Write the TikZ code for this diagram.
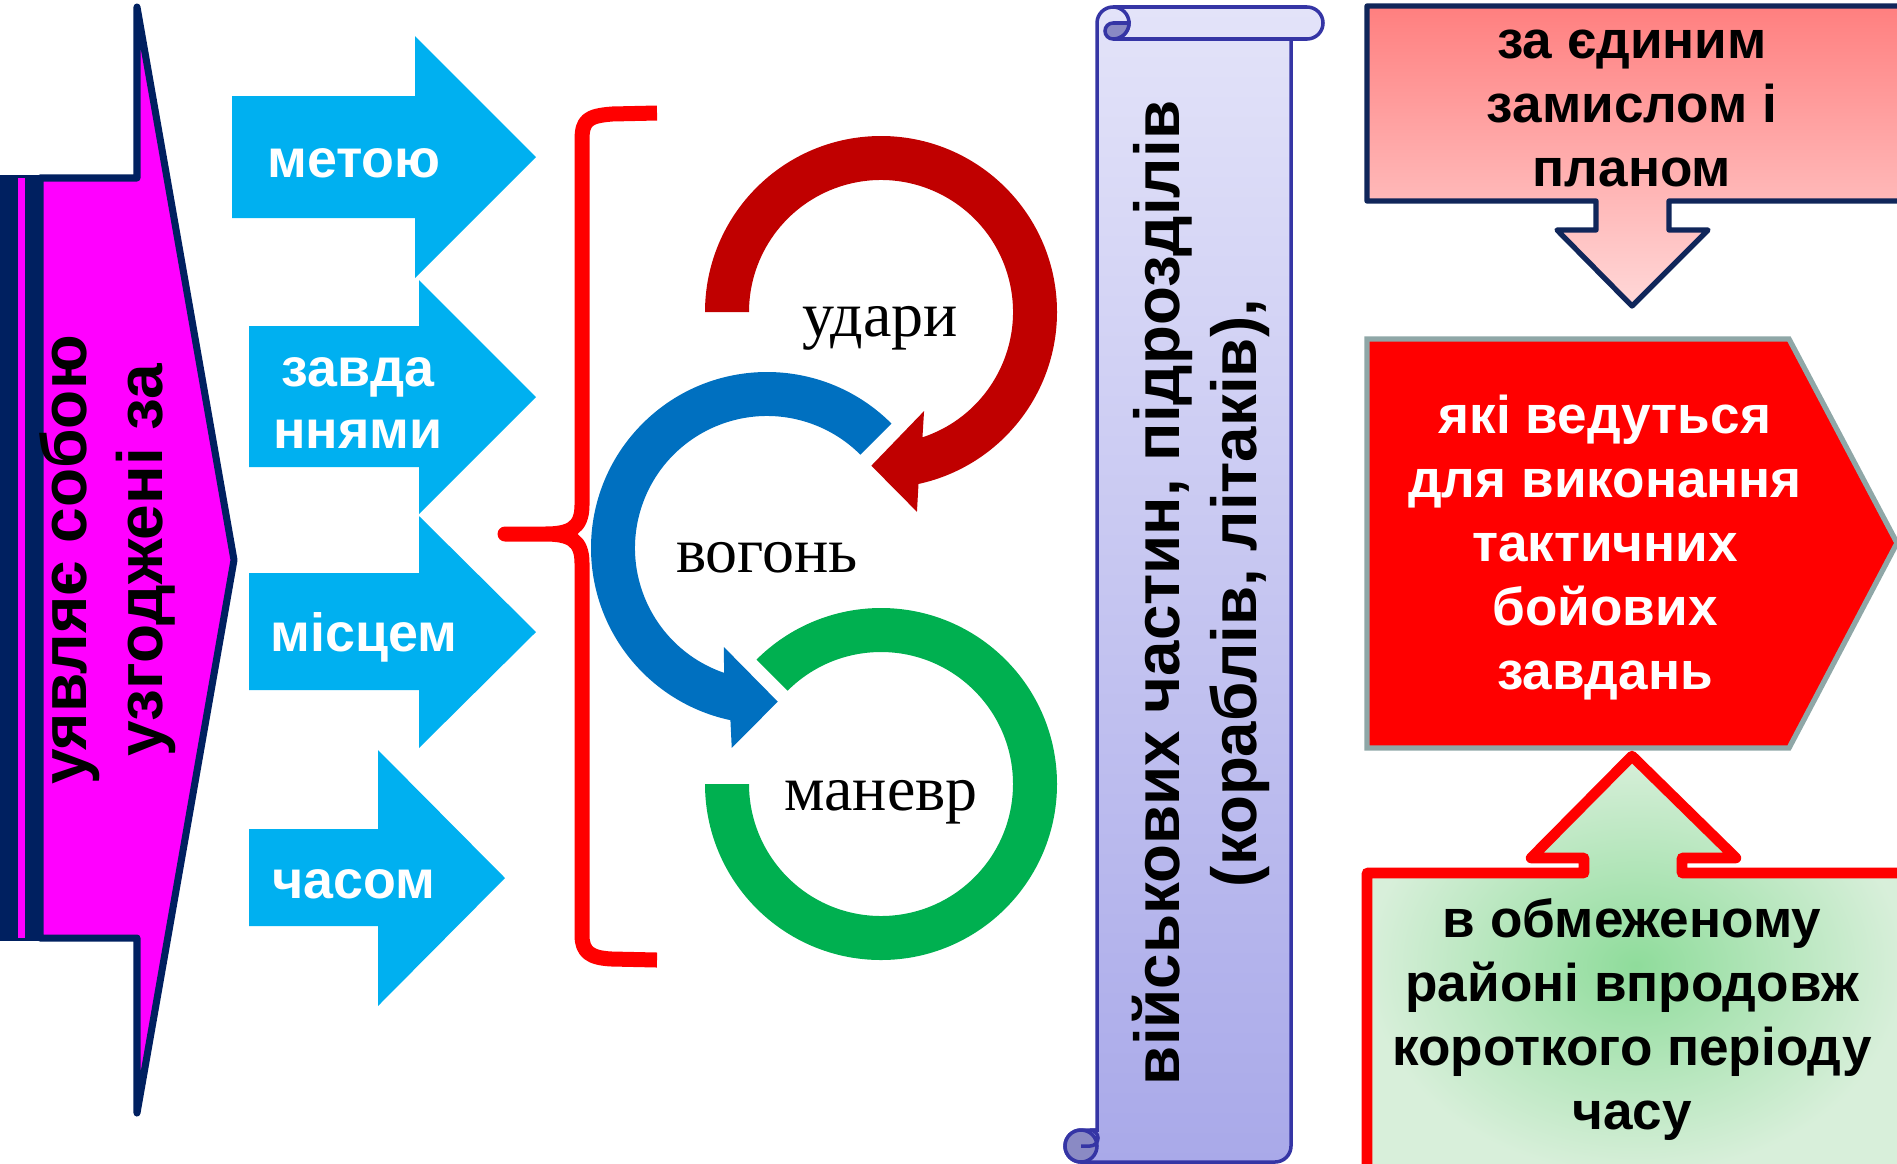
\documentclass[tikz,border=0pt]{standalone}
\usepackage{fontspec}
\setmainfont{Liberation Serif}
\setsansfont{Liberation Sans}
\definecolor{navy}{HTML}{002060}
\definecolor{pinkarrow}{HTML}{FF00FF}
\definecolor{skyblue}{HTML}{00B0F0}
\definecolor{bracered}{HTML}{FF0000}
\definecolor{ringred}{HTML}{C00000}
\definecolor{ringblue}{HTML}{0070C0}
\definecolor{ringgreen}{HTML}{00B050}
\definecolor{scrollline}{HTML}{3535A5}
\definecolor{scrolltop}{HTML}{E3E3F9}
\definecolor{scrollbot}{HTML}{A9A9E9}
\definecolor{scrollcurl}{HTML}{8A8AC4}
\definecolor{planline}{HTML}{10265A}
\definecolor{plantop}{HTML}{FF7F7F}
\definecolor{planbot}{HTML}{FFD8D8}
\definecolor{taskline}{HTML}{8FA7A7}
\definecolor{areain}{HTML}{8FDC9B}
\definecolor{areaout}{HTML}{D8EFDA}

\begin{document}
\begin{tikzpicture}[x=0.01cm, y=0.01cm,
  sidetext/.style={font=\fontsize{18.2}{21.6}\selectfont\sffamily\bfseries, align=center, rotate=90},
  bluetext/.style={font=\fontsize{15.3}{17.9}\selectfont\sffamily\bfseries, text=white, align=center},
  ringtext/.style={font=\fontsize{18.2}{21}\selectfont, anchor=base},
  scrolltext/.style={font=\fontsize{18.1}{21.9}\selectfont\sffamily\bfseries, align=center, rotate=90},
  boxtext/.style={font=\fontsize{15.1}{18.2}\selectfont\sffamily\bfseries, align=center}]
\clip (0,0) rectangle (1897,-1163);

\fill[navy] (0,-175) rectangle (41,-941);
\fill[pinkarrow] (18,-178) rectangle (25,-938);
\draw[navy, fill=pinkarrow, line width=2pt, line join=round] (40,-178) -- (137,-178) -- (137,-7) -- (234,-560) -- (137,-1113) -- (137,-938) -- (40,-938) -- cycle;
\node[sidetext] (joint) at (108,-560) {уявляє собою\\узгоджені за};

\fill[skyblue] (232,-96) -- (415,-96) -- (415,-36) -- (536,-157) -- (415,-278) -- (415,-218) -- (232,-218) -- cycle;
\fill[skyblue] (249,-326) -- (419,-326) -- (419,-280) -- (536,-397) -- (419,-514) -- (419,-467) -- (249,-467) -- cycle;
\fill[skyblue] (249,-573) -- (419,-573) -- (419,-516) -- (536,-632) -- (419,-748) -- (419,-690) -- (249,-690) -- cycle;
\fill[skyblue] (249,-829) -- (378,-829) -- (378,-750) -- (505,-878) -- (378,-1006) -- (378,-926) -- (249,-926) -- cycle;
\node[bluetext, anchor=base] (aim) at (354,-177) {метою};
\node[bluetext] (task) at (358,-403) {завда\\ннями};
\node[bluetext, anchor=base] (place) at (364,-651) {місцем};
\node[bluetext, anchor=base] (time) at (354,-898) {часом};

\draw[bracered, line width=0.15cm, line join=round] (657,-113) -- (612,-114) .. controls (588,-116) and (582,-120) .. (582,-140) -- (582,-505) .. controls (582,-528) and (570,-534) .. (545,-534) -- (505,-534) -- (545,-534) .. controls (570,-534) and (582,-540) .. (582,-563) -- (582,-935) .. controls (582,-952) and (590,-958) .. (612,-959) -- (657,-960);

\coordinate (hit) at (881,-312);
\coordinate (fire) at (767,-548);
\coordinate (move) at (881,-784);
\fill[ringred] ([shift={(180:176)}]hit) arc[start angle=180, end angle=-77.7, radius=176] -- ([shift={(-79.8:203)}]hit) -- ([shift={(-93.6:154)}]hit) -- ([shift={(-66.5:108)}]hit) -- ([shift={(-71.7:132)}]hit) arc[start angle=-71.7, end angle=180, radius=132] -- cycle;
\fill[ringblue] ([shift={(45:176)}]fire) arc[start angle=45, end angle=258, radius=176] -- ([shift={(260:203)}]fire) -- ([shift={(274:154)}]fire) -- ([shift={(246.5:108)}]fire) -- ([shift={(251:132)}]fire) arc[start angle=251, end angle=45, radius=132] -- cycle;
\fill[ringgreen] ([shift={(180:176)}]move) arc[start angle=180, end angle=495, radius=176] -- ([shift={(135:132)}]move) arc[start angle=495, end angle=180, radius=132] -- cycle;
\node[ringtext] (hitword) at (880,-336) {удари};
\node[ringtext] (fireword) at (767,-572) {вогонь};
\node[ringtext] (moveword) at (881,-810) {маневр};

\shade[top color=scrolltop, bottom color=scrollbot, draw=scrollline, line width=1pt] (1113,-7) -- (1307,-7) arc[start angle=90, end angle=-90, radius=16] -- (1291,-39) -- (1291,-1146) arc[start angle=0, end angle=-90, radius=16] -- (1081,-1162) arc[start angle=-90, end angle=-270, radius=16] -- (1097,-1130) -- (1097,-23) arc[start angle=180, end angle=90, radius=16] -- cycle;
\draw[scrollline, line width=1pt] (1113,-39) -- (1307,-39);
\draw[scrollline, line width=1pt] (1113,-7) arc[start angle=90, end angle=-90, radius=16];
\filldraw[fill=scrollcurl, draw=scrollline, line width=1pt] (1113,-23) -- (1129,-23) arc[start angle=0, end angle=-90, radius=16] arc[start angle=-90, end angle=-270, radius=8] -- cycle;
\filldraw[fill=scrollcurl, draw=scrollline, line width=1pt] (1081,-1146) circle[radius=16];
\draw[scrollline, line width=1pt] (1081,-1146) -- (1090,-1146) arc[start angle=-90, end angle=90, radius=8] -- (1097,-1130);
\node[scrolltext] (units) at (1201,-593) {військових частин, підрозділів\\(кораблів, літаків),};

\shade[top color=plantop, bottom color=planbot, draw=planline, line width=1.5pt, line join=round] (1367,-6) -- (1905,-6) -- (1905,-201) -- (1669,-201) -- (1669,-230) -- (1708,-230) -- (1632,-306) -- (1557,-230) -- (1596,-230) -- (1596,-201) -- (1367,-201) -- cycle;
\node[boxtext] (plan) at (1632,-108) {за єдиним\\замислом і\\планом};

\draw[taskline, fill=red, line width=1.5pt] (1367,-339) -- (1789,-339) -- (1897,-543) -- (1789,-748) -- (1367,-748) -- cycle;
\node[boxtext, text=white] (goal) at (1605,-548) {які ведуться\\для виконання\\тактичних\\бойових\\завдань};

\shade[inner color=areain, outer color=areaout, draw=bracered, line width=3pt, line join=round] (1367,-873) -- (1584,-873) -- (1584,-858) -- (1531,-858) -- (1632,-756) -- (1736,-858) -- (1682,-858) -- (1682,-873) -- (1905,-873) -- (1905,-1175) -- (1367,-1175) -- cycle;
\node[boxtext] (area) at (1632,-1020) {в обмеженому\\районі впродовж\\короткого періоду\\часу};
\end{tikzpicture}
\end{document}
